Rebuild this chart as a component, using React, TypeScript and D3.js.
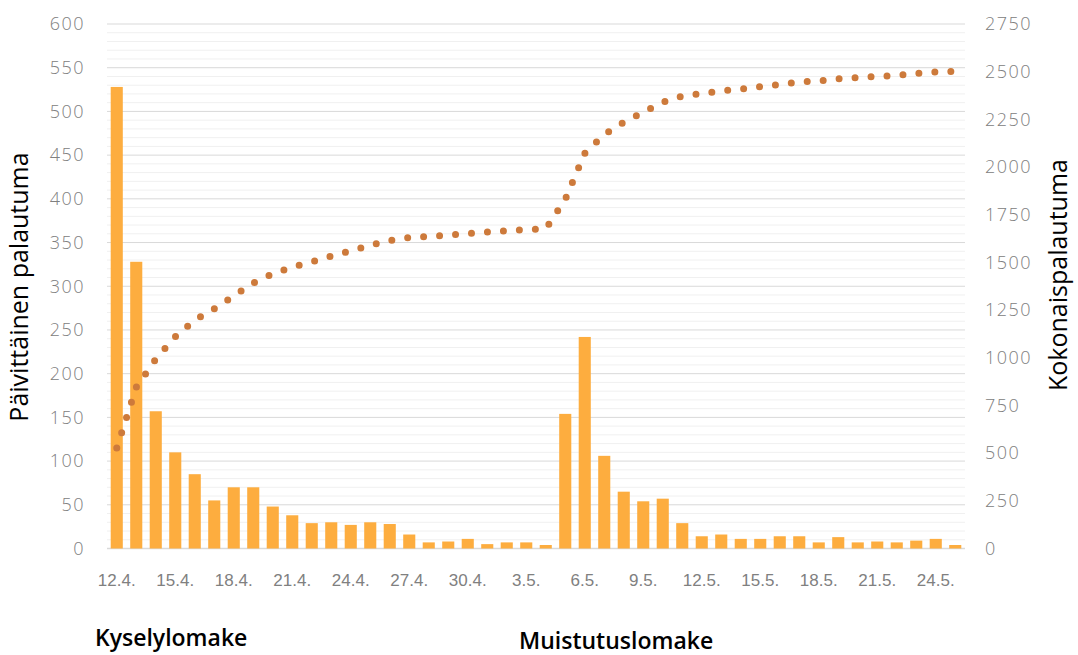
import React from "react";
import * as d3 from "d3";

const dates = [
  "12.4.", "13.4.", "14.4.", "15.4.", "16.4.", "17.4.", "18.4.", "19.4.", "20.4.", "21.4.",
  "22.4.", "23.4.", "24.4.", "25.4.", "26.4.", "27.4.", "28.4.", "29.4.", "30.4.", "1.5.",
  "2.5.", "3.5.", "4.5.", "5.5.", "6.5.", "7.5.", "8.5.", "9.5.", "10.5.", "11.5.",
  "12.5.", "13.5.", "14.5.", "15.5.", "16.5.", "17.5.", "18.5.", "19.5.", "20.5.", "21.5.",
  "22.5.", "23.5.", "24.5.", "25.5.",
];

// daily responses (left axis)
const daily = [
  528, 328, 157, 110, 85, 55, 70, 70, 48, 38,
  29, 30, 27, 30, 28, 16, 7, 8, 11, 5,
  7, 7, 4, 154, 242, 106, 65, 54, 57, 29,
  14, 16, 11, 11, 14, 14, 7, 13, 7, 8,
  7, 9, 11, 4,
];

// running total (right axis)
const total = [
  527, 845, 993, 1110, 1198, 1257, 1324, 1392, 1440, 1476,
  1503, 1533, 1560, 1590, 1615, 1630, 1637, 1643, 1652, 1659,
  1666, 1672, 1676, 1830, 2072, 2170, 2235, 2287, 2340, 2372,
  2385, 2400, 2409, 2421, 2433, 2446, 2452, 2462, 2469, 2475,
  2481, 2491, 2498, 2502,
];

const leftTicks = d3.range(0, 601, 50);
const rightTicks = d3.range(0, 2751, 250);
const minorTicks = d3.range(0, 601, 10);
const tickLabels = dates.filter((_, i) => i % 3 === 0);

const W = 1078;
const H = 655;
const top = 24;
const bottom = 548.5;
const left = 107;
const right = 965;

const barColor = "#FDAD3F";
const dotColor = "#CD7A3B";
const tickFont = "'Open Sans', sans-serif";

export default function App() {
  const x = d3
    .scaleBand<string>()
    .domain(dates)
    .range([left, right])
    .paddingInner(0.38)
    .paddingOuter(0.19);
  const yL = d3.scaleLinear().domain([0, 600]).range([bottom, top]);
  const yR = d3.scaleLinear().domain([0, 2750]).range([bottom, top]);
  const cx = (d: string) => (x(d) || 0) + x.bandwidth() / 2;

  const line = d3
    .line<number>()
    .x((_, i) => cx(dates[i]))
    .y((v) => yR(v));

  return (
    <svg
      width={W}
      height={H}
      style={{ position: "absolute", left: 0, top: 0, background: "#fff" }}
    >
      {minorTicks
        .filter((t) => t % 50 !== 0)
        .map((t) => (
          <line key={"m" + t} x1={left} x2={right} y1={yL(t)} y2={yL(t)} stroke="#F0F0F0" strokeWidth={1} />
        ))}
      {leftTicks.map((t) => (
        <line key={"g" + t} x1={left} x2={right} y1={yL(t)} y2={yL(t)} stroke="#D9D9D9" strokeWidth={t === 0 ? 1.5 : 1} />
      ))}

      {daily.map((v, i) => (
        <rect
          key={"b" + i}
          x={x(dates[i])}
          y={yL(v)}
          width={x.bandwidth()}
          height={yL(0) - yL(v)}
          fill={barColor}
        />
      ))}

      <path
        d={line(total) || ""}
        fill="none"
        stroke={dotColor}
        strokeWidth={7}
        strokeLinecap="round"
        strokeDasharray="0 16"
      />

      {leftTicks.map((t) => (
        <text key={"l" + t} x={85} y={yL(t)} dy="0.35em" textAnchor="end" fontFamily={tickFont} fontWeight={300} fontSize={18} letterSpacing={1.5} fill="#808080">
          {t}
        </text>
      ))}
      {rightTicks.map((t) => (
        <text key={"r" + t} x={985} y={yR(t)} dy="0.35em" textAnchor="start" fontFamily={tickFont} fontWeight={300} fontSize={18} letterSpacing={1.5} fill="#808080">
          {t}
        </text>
      ))}
      {tickLabels.map((d) => (
        <text key={"x" + d} x={cx(d)} y={586} textAnchor="middle" fontFamily="'Liberation Sans Narrow', sans-serif" fontSize={17} fill="#808080">
          {d}
        </text>
      ))}

      <text transform="translate(28,287) rotate(-90)" textAnchor="middle" fontFamily="'Open Sans', sans-serif" fontSize={25} fill="#000">
        Päivittäinen palautuma
      </text>
      <text transform="translate(1067,275) rotate(-90)" textAnchor="middle" fontFamily="'Open Sans', sans-serif" fontSize={25} fill="#000">
        Kokonaispalautuma
      </text>

      <text x={95} y={646} fontFamily="'Open Sans', sans-serif" fontWeight={600} fontSize={23} fill="#000">
        Kyselylomake
      </text>
      <text x={519} y={649} fontFamily="'Open Sans', sans-serif" fontWeight={600} fontSize={23} fill="#000">
        Muistutuslomake
      </text>
    </svg>
  );
}
